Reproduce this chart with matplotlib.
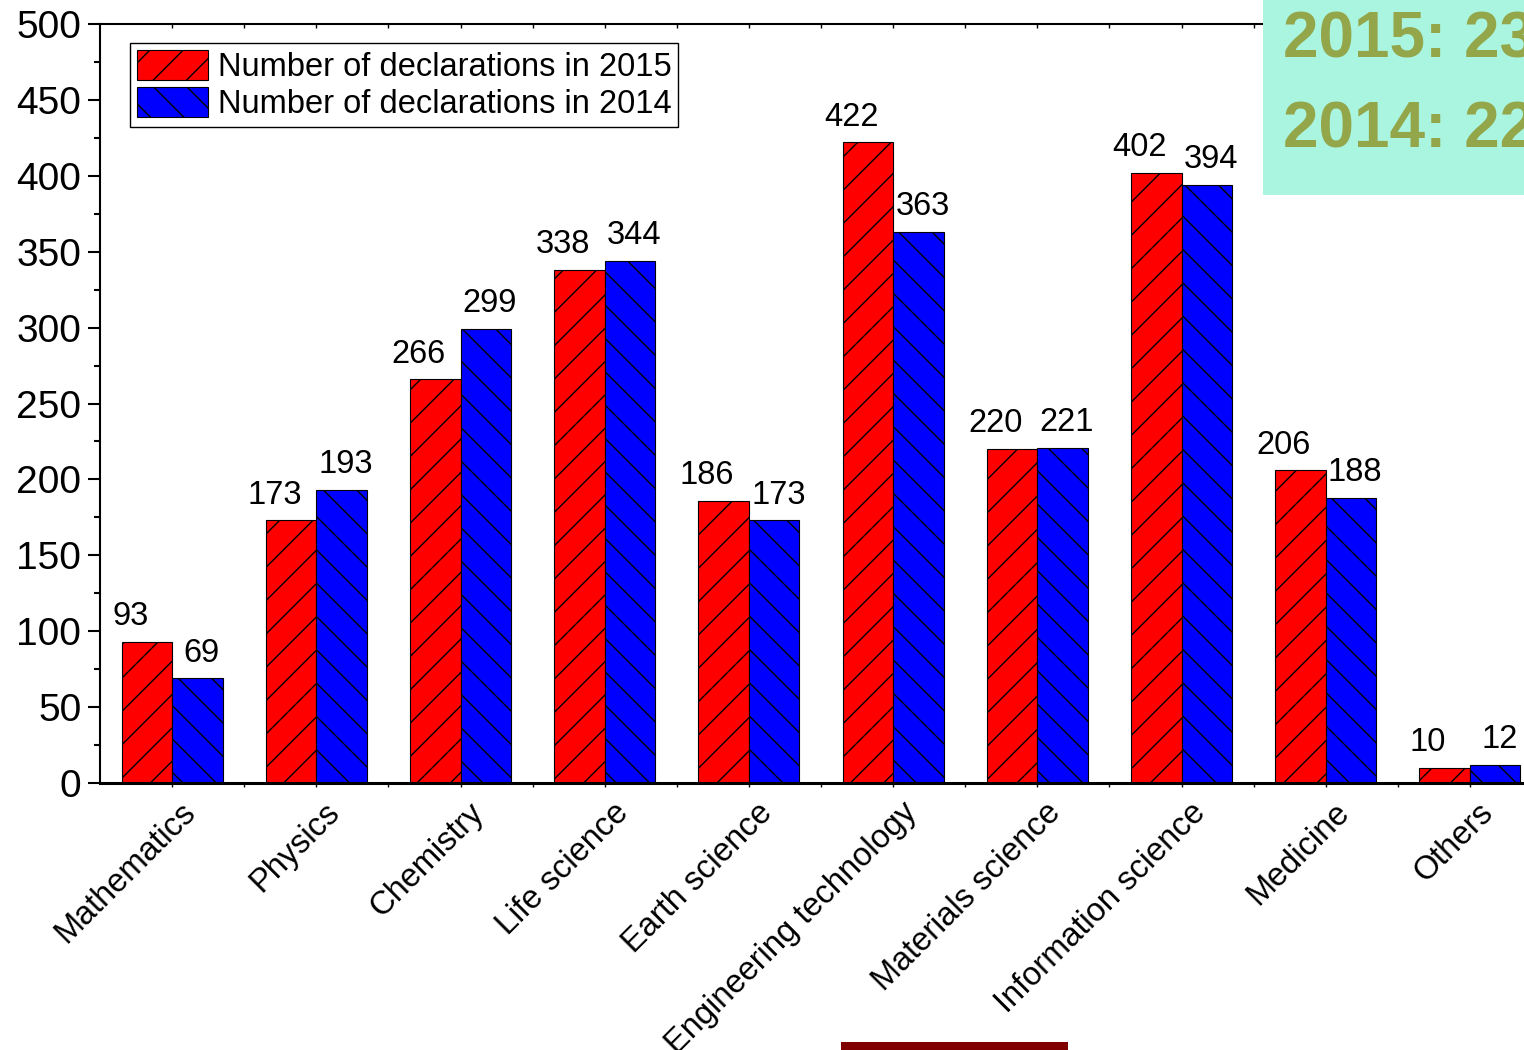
import matplotlib
matplotlib.use("Agg")
import matplotlib.pyplot as plt
import matplotlib.transforms as mtransforms
from matplotlib.patches import Rectangle
import numpy as np

plt.rcParams['font.family'] = ['Liberation Sans', 'DejaVu Sans']
plt.rcParams['hatch.linewidth'] = 1.0

categories = ['Mathematics', 'Physics', 'Chemistry', 'Life science', 'Earth science',
              'Engineering technology', 'Materials science', 'Information science',
              'Medicine', 'Others']
decl_2015 = [93, 173, 266, 338, 186, 422, 220, 402, 206, 10]
decl_2014 = [69, 193, 299, 344, 173, 363, 221, 394, 188, 12]
label_2015 = 'Number of declarations in 2015'
label_2014 = 'Number of declarations in 2014'
box_lines = ['2015: 23', '2014: 22']


def main():
    fig = plt.figure(figsize=(15.24, 10.5), dpi=100)
    ax = fig.add_axes([100 / 1524, 267 / 1050, 1442 / 1524, 759 / 1050])

    x = np.arange(len(categories))
    w = 0.35
    bars15 = ax.bar(x - w / 2, decl_2015, w, color='#ff0000', edgecolor='black',
                    linewidth=0.8, hatch='/', label=label_2015)
    bars14 = ax.bar(x + w / 2, decl_2014, w, color='#0000ff', edgecolor='black',
                    linewidth=0.8, hatch='\\', label=label_2014)

    # value labels
    for bars, dx in ((bars15, -12), (bars14, 3)):
        for b in bars:
            h = b.get_height()
            ax.annotate(f'{h:g}', (b.get_x() + b.get_width() / 2, h),
                        xytext=(dx, 12), textcoords='offset points',
                        ha='center', va='baseline', fontsize=23.5)

    ax.set_xlim(-0.5, 9.5)
    ax.set_ylim(0, 500)
    ax.set_yticks(np.arange(0, 501, 50))
    ax.set_yticks(np.arange(25, 500, 50), minor=True)
    ax.set_xticks(x)
    ax.set_xticks(x + 0.5, minor=True)
    ax.set_xticklabels([])

    # rotated category labels, shifted down-right like the original
    trans = mtransforms.blended_transform_factory(ax.transData, ax.transAxes) + \
        mtransforms.ScaledTranslation(0.19, -0.25, fig.dpi_scale_trans)
    for xi, name in zip(x, categories):
        ax.text(xi, 0, name, transform=trans, rotation=45, ha='right', va='center',
                rotation_mode='anchor', fontsize=23.5, clip_on=False)

    ax.tick_params(axis='y', which='major', direction='out', length=8.5, width=1.5,
                   labelsize=28, pad=5)
    ax.tick_params(axis='y', which='minor', direction='out', length=4.3, width=1.5)
    ax.tick_params(axis='x', which='both', direction='out', length=3, width=1,
                   top=True, pad=0)
    for t in ax.xaxis.get_major_ticks() + ax.xaxis.get_minor_ticks():
        t.tick2line.set_marker(3)  # top ticks pointing into the axes
        t.tick2line.set_markersize(3)

    ax.spines['left'].set_linewidth(1.5)
    ax.spines['top'].set_linewidth(1.5)
    ax.spines['bottom'].set_linewidth(2.2)
    ax.spines['right'].set_linewidth(1.5)

    leg = ax.legend(loc='upper left', bbox_to_anchor=(30 / 1442, 740 / 759),
                    borderaxespad=0, fontsize=23.5, handlelength=2.2, handleheight=1.05,
                    labelspacing=0.12, handletextpad=0.3, borderpad=0.2,
                    fancybox=False, framealpha=1, edgecolor='black')
    leg.get_frame().set_linewidth(1.0)

    # green summary box in the top right corner
    fig.add_artist(Rectangle((1263 / 1524, 1 - 195 / 1050), 1, 195 / 1050,
                             transform=fig.transFigure, facecolor='#aaf5e0',
                             edgecolor='none', zorder=5))
    for i, line in enumerate(box_lines):
        fig.text(1283 / 1524, 1 - (57 + 91 * i) / 1050, line, fontsize=46,
                 fontweight='bold', color='#94a64a', va='baseline', ha='left',
                 zorder=6)

    # dark red strip at the bottom
    fig.add_artist(Rectangle((841 / 1524, 0), 227 / 1524, 8 / 1050,
                             transform=fig.transFigure, facecolor='#800000',
                             edgecolor='none', zorder=5))

    fig.savefig('out.png', dpi=100)


if __name__ == "__main__":
    main()
